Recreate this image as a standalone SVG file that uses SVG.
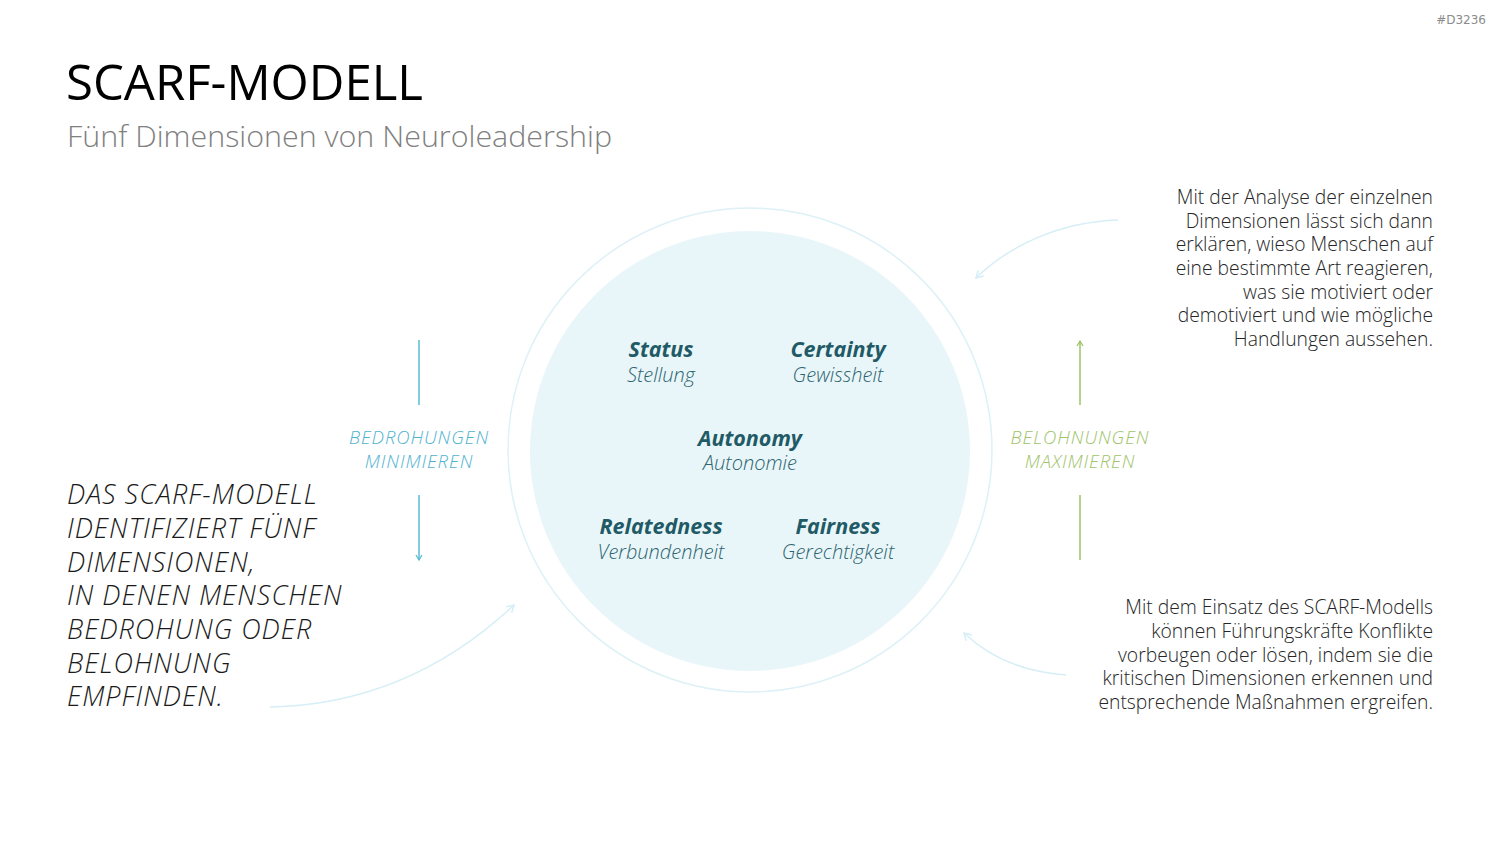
<svg xmlns="http://www.w3.org/2000/svg" width="1500" height="844" viewBox="0 0 1500 844">
<style>
text{font-family:"Open Sans","Noto Sans","DejaVu Sans",sans-serif;}
.title{font-size:50px;fill:#000;}
.sub{font-size:29px;fill:#7f7f7f;font-weight:300;}
.body{font-size:19.3px;fill:#262626;font-weight:300;text-anchor:end;}
.left{font-size:27px;fill:#1a1a1a;font-style:italic;font-weight:300;letter-spacing:1px;}
.en{font-size:21.5px;fill:#1f5a66;font-style:italic;font-weight:700;text-anchor:middle;}
.de{font-size:20px;fill:#2c6470;font-style:italic;font-weight:300;text-anchor:middle;}
.blue{font-size:18.5px;fill:#4fb3cf;font-style:italic;font-weight:300;text-anchor:middle;letter-spacing:0.9px;}
.green{font-size:18.5px;fill:#9ec36a;font-style:italic;font-weight:300;text-anchor:middle;letter-spacing:0.9px;}
.curve{fill:none;stroke:#d6eef6;stroke-width:1.5;}
</style>
<defs>
<marker id="ahb" markerWidth="8" markerHeight="8" refX="6" refY="4" orient="auto" markerUnits="userSpaceOnUse"><path d="M1,1 L6,4 L1,7" fill="none" stroke="#5bbad3" stroke-width="1.3"/></marker>
<marker id="ahg" markerWidth="8" markerHeight="8" refX="6" refY="4" orient="auto" markerUnits="userSpaceOnUse"><path d="M1,1 L6,4 L1,7" fill="none" stroke="#9ec36a" stroke-width="1.3"/></marker>
<marker id="ahc" markerWidth="10" markerHeight="10" refX="8" refY="5" orient="auto" markerUnits="userSpaceOnUse"><path d="M1,1 L8,5 L1,9" fill="none" stroke="#d6eef6" stroke-width="1.5"/></marker>
</defs>
<rect width="1500" height="844" fill="#fff"/>
<text x="1486" y="24" style="font-family:'DejaVu Sans',sans-serif;font-size:12px;fill:#8c8c8c;text-anchor:end">#D3236</text>
<g id="header">
<text class="title" x="66" y="100" textLength="357" lengthAdjust="spacingAndGlyphs">SCARF-MODELL</text>
<text class="sub" x="67" y="147" textLength="545" lengthAdjust="spacingAndGlyphs">Fünf Dimensionen von Neuroleadership</text>
</g>
<g id="circle">
<circle cx="750" cy="450" r="242" fill="none" stroke="#ddf1f7" stroke-width="1.5"/>
<circle cx="750" cy="451" r="220" fill="#e9f6f9"/>
</g>
<g id="status"><text class="en" x="661" y="357">Status</text><text class="de" x="661" y="382">Stellung</text></g>
<g id="certainty"><text class="en" x="838" y="357">Certainty</text><text class="de" x="838" y="382">Gewissheit</text></g>
<g id="autonomy"><text class="en" x="750" y="446">Autonomy</text><text class="de" x="750" y="470">Autonomie</text></g>
<g id="relatedness"><text class="en" x="661" y="534">Relatedness</text><text class="de" x="661" y="559">Verbundenheit</text></g>
<g id="fairness"><text class="en" x="838" y="534">Fairness</text><text class="de" x="838" y="559">Gerechtigkeit</text></g>
<g id="threats"><text class="blue" x="419" y="444">BEDROHUNGEN</text><text class="blue" x="419" y="468">MINIMIEREN</text></g>
<g id="rewards"><text class="green" x="1080" y="444">BELOHNUNGEN</text><text class="green" x="1080" y="468">MAXIMIEREN</text></g>
<g id="lefttext">
<text class="left" x="67" y="504">DAS SCARF-MODELL</text>
<text class="left" x="67" y="538">IDENTIFIZIERT FÜNF</text>
<text class="left" x="67" y="572">DIMENSIONEN,</text>
<text class="left" x="67" y="605">IN DENEN MENSCHEN</text>
<text class="left" x="67" y="639">BEDROHUNG ODER</text>
<text class="left" x="67" y="673">BELOHNUNG</text>
<text class="left" x="67" y="706">EMPFINDEN.</text>
</g>
<g id="toptext">
<text class="body" x="1433" y="204">Mit der Analyse der einzelnen</text>
<text class="body" x="1433" y="228">Dimensionen lässt sich dann</text>
<text class="body" x="1433" y="251">erklären, wieso Menschen auf</text>
<text class="body" x="1433" y="275">eine bestimmte Art reagieren,</text>
<text class="body" x="1433" y="299">was sie motiviert oder</text>
<text class="body" x="1433" y="322">demotiviert und wie mögliche</text>
<text class="body" x="1433" y="346">Handlungen aussehen.</text>
</g>
<g id="bottomtext">
<text class="body" x="1433" y="614">Mit dem Einsatz des SCARF-Modells</text>
<text class="body" x="1433" y="638">können Führungskräfte Konflikte</text>
<text class="body" x="1433" y="662">vorbeugen oder lösen, indem sie die</text>
<text class="body" x="1433" y="685">kritischen Dimensionen erkennen und</text>
<text class="body" x="1433" y="709">entsprechende Maßnahmen ergreifen.</text>
</g>
<g id="connectors">
<line x1="419" y1="340" x2="419" y2="405" stroke="#5bbad3" stroke-width="1.5"/>
<line x1="419" y1="495" x2="419" y2="560" stroke="#5bbad3" stroke-width="1.5" marker-end="url(#ahb)"/>
<line x1="1080" y1="405" x2="1080" y2="341" stroke="#9ec36a" stroke-width="1.5" marker-end="url(#ahg)"/>
<line x1="1080" y1="495" x2="1080" y2="560" stroke="#9ec36a" stroke-width="1.5"/>
<path class="curve" d="M1118,220 C1060,222 1010,245 976,278" marker-end="url(#ahc)"/>
<path class="curve" d="M1066,675 C1025,672 990,658 964,633" marker-end="url(#ahc)"/>
<path class="curve" d="M270,707 C370,705 450,665 514,605" marker-end="url(#ahc)"/>
</g>
</svg>
